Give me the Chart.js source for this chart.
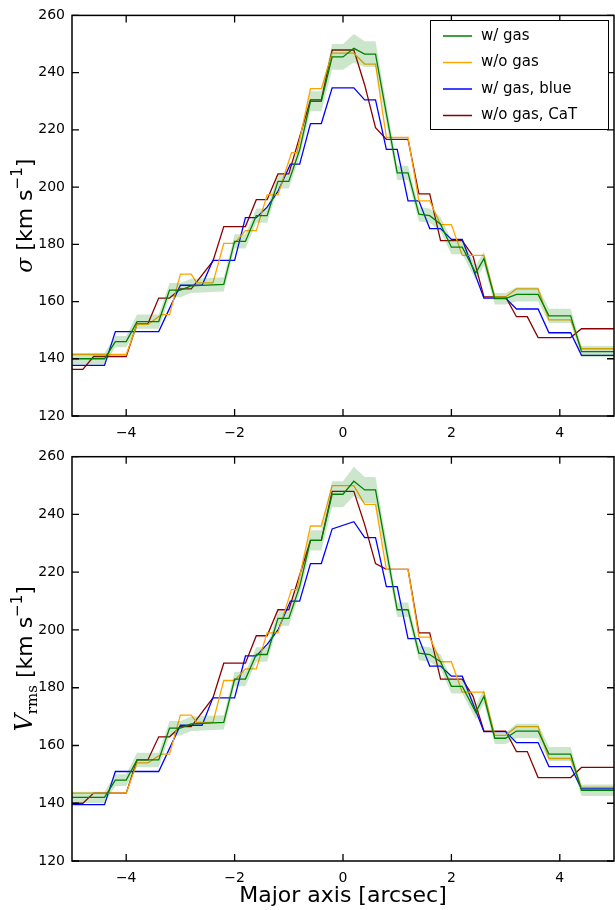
<!DOCTYPE html>
<html><head><meta charset="utf-8">
<script src="https://cdn.jsdelivr.net/npm/chart.js@4"></script>
<style>body{margin:0;background:#fff;width:615px;height:910px;position:relative;overflow:hidden}
.c{position:absolute;left:0;width:615px}</style></head>
<body>
<div class="c" style="top:0;height:440px"><canvas id="c1"></canvas></div>
<div class="c" style="top:440px;height:470px"><canvas id="c2"></canvas></div>
<script>
const xTicks=[-4,-2,0,2,4];
const yTicks=[120,140,160,180,200,220,240,260];
const labels=["w/ gas","w/o gas","w/ gas, blue","w/o gas, CaT"];
const colors=["#008000","#FFA500","#0000FF","#8B0000"];

const greenX=[-5,-4.4,-4.2,-4.0,-3.8,-3.4,-3.2,-3.0,-2.8,-2.2,-2.0,-1.8,-1.6,-1.4,-1.2,-1.0,-0.8,-0.6,-0.4,-0.2,0,0.2,0.4,0.6,1.0,1.2,1.4,1.6,1.8,2.0,2.2,2.45,2.6,2.8,3.0,3.2,3.6,3.8,4.2,4.4,5];
const greenSigma=[140,140,146,146,153,153,164,164,165.5,166,181,181,190,190,202,202,213,230,230,245.5,245.5,248.5,246.5,246.5,205,205,190.5,190,187,179,179,170,175,161,161,162.5,162.5,155,155,142.5,142.5];
const greenVrms=[142,142,148,148,155,155,166,166,167.5,168,183,183,191.5,191.5,204,204,215,231,231,247,247,251.5,248.5,248.5,207,207,192,191.5,189,180.5,180.5,171.5,177,162.5,162.5,165,165,157,157,144.5,144.5];
const greenErr=[2,2,2,2,2.5,2.5,2.5,2.5,2.5,2.5,2.5,2.5,2.5,2.5,2.5,2.5,2.5,3.5,3.5,4.5,4.5,5,4.5,4.5,2.5,2.5,2.5,2.5,2.5,2.5,2.5,2.5,2.5,2,2,2.5,2.5,2.5,2.5,2,2];

const orangeX=[-5,-4.0,-3.8,-3.6,-3.35,-3.2,-3.0,-2.8,-2.7,-2.4,-2.2,-2.0,-1.8,-1.6,-1.4,-1.2,-0.95,-0.85,-0.6,-0.4,-0.2,0.2,0.4,0.6,0.8,1.2,1.4,1.6,1.8,2.0,2.2,2.6,2.8,3.0,3.2,3.6,3.8,4.2,4.4,5];
const orangeSigma=[141.5,141.5,152,152,155.4,155.4,169.6,169.6,166.5,166.5,180.3,180.3,184.8,184.8,197.3,197.3,212,212,234.4,234.4,246.8,246.8,243,243,217.4,217.4,195.2,195.2,186.9,186.9,176.1,176.1,161.6,161.6,164.4,164.4,153.6,153.6,143.5,143.5];
const orangeVrms=[143.5,143.5,154,154,157,157,170.5,170.5,168,168,182.5,182.5,186.5,186.5,199,199,214,214,236,236,250,250,243.5,243.5,221,221,197.5,197.5,189,189,178.5,178.5,163.5,163.5,166.5,166.5,155.5,155.5,145.5,145.5];

const blueX=[-5,-4.4,-4.2,-3.4,-3.0,-2.6,-2.4,-2.0,-1.8,-1.6,-1.4,-1.2,-0.97,-0.8,-0.6,-0.4,-0.2,0.2,0.4,0.6,0.8,1.0,1.2,1.4,1.6,1.8,2.0,2.2,2.6,3.0,3.2,3.6,3.8,4.2,4.4,5];
const blueSigma=[137.7,137.7,149.5,149.5,165.7,165.7,174.4,174.4,189.3,189.3,193,198.5,208,208,222.2,222.2,234.7,234.7,230.5,230.5,213.2,213.2,195.2,195.2,185.5,185.5,181.7,181.7,161.2,161.2,157.4,157.4,149.1,149.1,141.2,141.2];
const blueVrms=[139.5,139.5,151,151,167,167,176.5,176.5,191,191,195,200,210,210,223,223,235,237.5,232,232,215,215,197,197,187.5,187.5,184,184,164.8,164.8,161,161,152.7,152.7,145,145];

const redX=[-5,-4.8,-4.6,-4.0,-3.8,-3.6,-3.4,-3.2,-3.0,-2.8,-2.4,-2.2,-1.8,-1.6,-1.4,-1.2,-1.0,-0.6,-0.4,-0.2,0.2,0.4,0.6,0.8,1.2,1.4,1.6,1.8,2.2,2.4,2.6,3.0,3.2,3.4,3.6,4.2,4.4,5];
const redSigma=[136.3,136.3,140.8,140.8,152.2,152.2,161.2,161.2,164.4,164.4,174.1,186.2,186.2,195.6,195.6,204.6,204.6,230.5,230.5,247.9,247.9,235.7,220.8,216.7,216.7,197.6,197.6,181.3,181.3,175.8,161.6,161.6,154.7,154.7,147.4,147.4,150.5,150.5];
const redVrms=[140,140,143.5,143.5,155,155,163,163,166.5,166.5,176.5,188.5,188.5,198,198,207,207,231,231,248,248,236.5,223,221,221,199,199,183,183,177,165,165,157.9,157.9,148.9,148.9,152.4,152.4];

const pts=(xs,ys,d)=>xs.map((x,i)=>({x,y:ys[i]+(d?d[i]:0)}));
const neg=a=>a.map(v=>-v);

function datasets(g,o,b,r){
  const band={borderWidth:0,pointRadius:0,backgroundColor:'rgba(0,128,0,0.2)'};
  return [
    Object.assign({data:pts(greenX,g,greenErr),fill:false},band),
    Object.assign({data:pts(greenX,g,neg(greenErr)),fill:'-1'},band),
    {data:pts(greenX,g),borderColor:colors[0],borderWidth:1.3,pointRadius:0,fill:false},
    {data:pts(orangeX,o),borderColor:colors[1],borderWidth:1.3,pointRadius:0,fill:false},
    {data:pts(blueX,b),borderColor:colors[2],borderWidth:1.3,pointRadius:0,fill:false},
    {data:pts(redX,r),borderColor:colors[3],borderWidth:1.3,pointRadius:0,fill:false}
  ];
}

function drawTitleY(ctx,cx,cy,parts){
  ctx.save();ctx.translate(cx,cy);ctx.rotate(-Math.PI/2);ctx.fillStyle='#000';ctx.textBaseline='alphabetic';
  let w=0;parts.forEach(p=>{ctx.font=p.f;w+=ctx.measureText(p.t).width;});
  let x=-w/2;parts.forEach(p=>{ctx.font=p.f;ctx.fillText(p.t,x,8+(p.dy||0));x+=ctx.measureText(p.t).width;});
  ctx.restore();
}

function frame(titleParts,legend,xTitle){
  return {id:'frame',afterDraw(ch){
    const ctx=ch.ctx,a=ch.chartArea,xs=ch.scales.x,ys=ch.scales.y;
    ctx.save();ctx.strokeStyle='#000';ctx.lineWidth=1.3;
    xTicks.forEach(v=>{const p=xs.getPixelForValue(v);ctx.beginPath();ctx.moveTo(p,a.bottom);ctx.lineTo(p,a.bottom-7);ctx.moveTo(p,a.top);ctx.lineTo(p,a.top+7);ctx.stroke();});
    yTicks.forEach(v=>{const p=ys.getPixelForValue(v);ctx.beginPath();ctx.moveTo(a.left,p);ctx.lineTo(a.left+7,p);ctx.moveTo(a.right,p);ctx.lineTo(a.right-7,p);ctx.stroke();});
    ctx.lineWidth=1.5;ctx.strokeRect(a.left,a.top,a.right-a.left,a.bottom-a.top);
    drawTitleY(ctx,24,(a.top+a.bottom)/2,titleParts);
    if(legend){
      ctx.fillStyle='#fff';ctx.fillRect(430,20,179,110);ctx.lineWidth=1;ctx.strokeRect(430.5,20.5,178,109);
      ctx.font='15px "DejaVu Sans"';ctx.textBaseline='middle';
      labels.forEach((l,i)=>{const y=36+i*26.5;ctx.strokeStyle=colors[i];ctx.lineWidth=1.5;ctx.beginPath();ctx.moveTo(443,y);ctx.lineTo(472,y);ctx.stroke();ctx.fillStyle='#000';ctx.fillText(l,481,y);});
    }
    if(xTitle){ctx.fillStyle='#000';ctx.font='22px "DejaVu Sans"';ctx.textAlign='center';ctx.textBaseline='middle';ctx.fillText(xTitle,(a.left+a.right)/2,456);}
    ctx.restore();
  }};
}

function make(id,data,padTop,xH,titleParts,legend,xTitle){
  new Chart(document.getElementById(id),{type:'line',data:{datasets:data},
    options:{responsive:true,maintainAspectRatio:false,animation:false,
      layout:{padding:{top:padTop,right:1,left:0,bottom:0}},
      plugins:{legend:{display:false},tooltip:{enabled:false}},
      scales:{
        x:{type:'linear',min:-5,max:5,grid:{display:false,drawTicks:false},border:{display:false},
          afterBuildTicks:s=>{s.ticks=xTicks.map(v=>({value:v}));},
          afterFit:s=>{s.height=xH;},
          ticks:{padding:9,color:'#000',font:{family:'DejaVu Sans',size:14},callback:v=>String(v).replace('-','\u2212'),maxRotation:0}},
        y:{min:120,max:260,grid:{display:false,drawTicks:false},border:{display:false},
          afterBuildTicks:s=>{s.ticks=yTicks.map(v=>({value:v}));},
          afterFit:s=>{s.width=72;},
          ticks:{padding:7,color:'#000',font:{family:'DejaVu Sans',size:14}}}
      }},
    plugins:[frame(titleParts,legend,xTitle)]});
}

const unit=[{t:' [km s',f:'22px "DejaVu Sans"'},{t:'\u22121',f:'15px "DejaVu Sans"',dy:-10},{t:']',f:'22px "DejaVu Sans"'}];
make('c1',datasets(greenSigma,orangeSigma,blueSigma,redSigma),12,24,[{t:'\u03c3',f:'italic 22px "DejaVu Serif"'}].concat(unit),true,null);
make('c2',datasets(greenVrms,orangeVrms,blueVrms,redVrms),16.7,49,[{t:'V',f:'italic 24px "DejaVu Serif"'},{t:'rms',f:'15px "DejaVu Serif"',dy:5}].concat(unit),false,'Major axis [arcsec]');
</script></body></html>
